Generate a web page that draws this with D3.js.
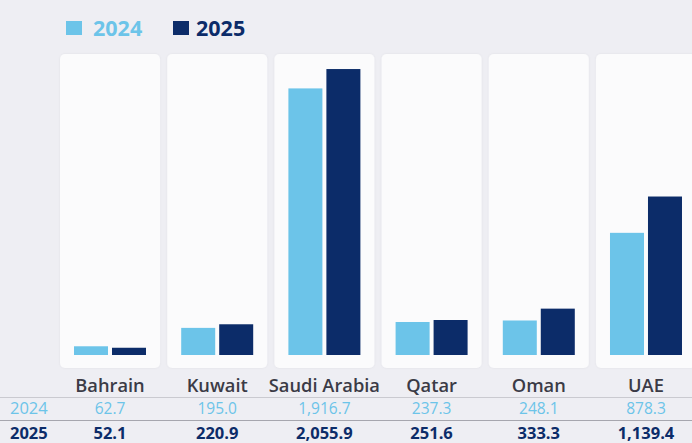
<!DOCTYPE html>
<html><head><meta charset="utf-8">
<script src="https://cdn.jsdelivr.net/npm/d3@7"></script>
<style>
html,body{margin:0;padding:0;background:#eeeef3;}
svg{display:block;font-family:"Open Sans","Noto Sans",sans-serif;}
</style></head>
<body>
<svg id="c" width="692" height="443"></svg>
<script>
const countries = ["Bahrain","Kuwait","Saudi Arabia","Qatar","Oman","UAE"];
const seriesNames = ["2024","2025"];
const values2024 = [62.7,195.0,1916.7,237.3,248.1,878.3];
const values2025 = [52.1,220.9,2055.9,251.6,333.3,1139.4];
const colors = ["#6cc4e9","#0c2c69"];
const valuesBySeries = [values2024, values2025];

const svg = d3.select("#c");
svg.append("rect").attr("width",692).attr("height",443).attr("fill","#eeeef3");

const x = d3.scaleBand().domain(countries).range([60,696]).paddingInner(0.067).paddingOuter(0);
const x1 = d3.scaleBand().domain(seriesNames).range([14,86]).paddingInner(0.105);
const y = d3.scaleLinear().domain([0,2200]).range([355,49]);
const fmt = d3.format(",.1f");

const defs = svg.append("defs");
const f = defs.append("filter").attr("id","sh").attr("x","-10%").attr("y","-10%").attr("width","120%").attr("height","120%");
f.append("feDropShadow").attr("dx",0).attr("dy",0).attr("stdDeviation",1.2).attr("flood-color","#000").attr("flood-opacity",0.06);

const g = svg.selectAll("g.panel").data(countries).join("g").attr("class","panel")
  .attr("transform", d => `translate(${x(d)},0)`);
g.append("rect").attr("x",0).attr("y",54).attr("width",x.bandwidth()).attr("height",314)
  .attr("rx",5).attr("fill","#fbfbfc").attr("filter","url(#sh)");

seriesNames.forEach((s,si)=>{
  g.append("rect")
    .attr("x", x1(s)).attr("width", x1.bandwidth())
    .attr("y", (d,i)=>y(valuesBySeries[si][i]))
    .attr("height", (d,i)=>y(0)-y(valuesBySeries[si][i]))
    .attr("fill", colors[si]);
});

// country labels
svg.selectAll("text.cat").data(countries).join("text").attr("class","cat")
  .attr("x", d=>x(d)+x.bandwidth()/2).attr("y",392)
  .attr("text-anchor","middle").attr("font-size",18.3).attr("font-weight",600)
  .attr("fill","#3b3b46").text(d=>d);

// table lines
svg.append("line").attr("x1",0).attr("x2",692).attr("y1",397.5).attr("y2",397.5).attr("stroke","#cacad0").attr("stroke-width",1);
svg.append("line").attr("x1",0).attr("x2",692).attr("y1",420.5).attr("y2",420.5).attr("stroke","#a6a6ae").attr("stroke-width",1);

// table rows
const rowY = [414, 438.5];
const rowSize = [15.5, 16.5];
seriesNames.forEach((s,si)=>{
  svg.append("text").attr("x",10).attr("y",rowY[si]).attr("font-size",16.5)
    .attr("font-weight", si ? 700 : 400).attr("fill", colors[si]).text(s);
  svg.selectAll("text.v"+s).data(countries).join("text").attr("class","v"+s)
    .attr("x", d=>x(d)+x.bandwidth()/2).attr("y",rowY[si])
    .attr("text-anchor","middle").attr("font-size",rowSize[si])
    .attr("font-weight", si ? 700 : 400).attr("fill", colors[si])
    .text((d,i)=>fmt(valuesBySeries[si][i]));
});

// legend
const lx = [66,173];
seriesNames.forEach((s,si)=>{
  svg.append("rect").attr("x",lx[si]).attr("y",21).attr("width",16).attr("height",14).attr("fill",colors[si]);
  svg.append("text").attr("x",lx[si]+(si?23:27)).attr("y",36).attr("font-size",21.5).attr("font-weight",700)
    .attr("fill", colors[si]).text(s);
});
</script>
</body></html>
